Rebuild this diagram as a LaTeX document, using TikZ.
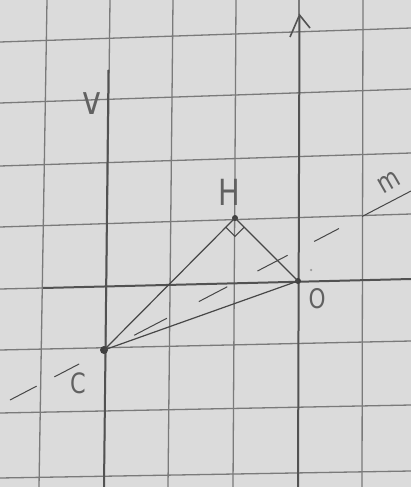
\documentclass[tikz,border=0pt]{standalone}
\usepackage{fontspec}
\setmainfont{DejaVu Sans}
\usetikzlibrary{calc}
\begin{document}
\begin{tikzpicture}[x=1pt,y=-1pt,
  gridline/.style={draw=black!52,line width=1.3pt},
  axis/.style={draw=black!68,line width=2pt},
  figline/.style={draw=black!72,line width=1.2pt},
  ptdot/.style={circle,fill=black!75,inner sep=0pt,minimum size=#1},
  lbl/.style={text=black!62,font=\fontsize{#1}{#1}\selectfont\addfontfeature{FakeStretch=0.8}}]
\useasboundingbox[fill=black!14] (0,0) rectangle (411,487);
% grid
\foreach \a/\b in {47/39,110/104,173/168,236/233,363/362}
  \draw[gridline] (\a,0) -- (\b,487);
\foreach \a/\b in {42/28,103/89,166/153,227/214,350/341,413/405,478/471}
  \draw[gridline] (0,\a) -- (411,\b);
\draw[gridline] (0,289) -- (43,288);
\draw[gridline] (299,0) -- (299,15);
% axes
\coordinate (ytop) at (299.5,15);
\coordinate (ybot) at (298,487);
\draw[axis] (ybot) -- (ytop);
\draw[axis,line width=1.6pt,line join=miter] (290,37) -- (ytop) -- (310,28);
\coordinate (xl) at (43,288);
\coordinate (xr) at (411,279);
\draw[axis] (xl) -- (xr);
\coordinate (vt) at (108.5,70);
\coordinate (vb) at (104,487);
\draw[axis] (vt) -- (vb);
% points
\node[ptdot=6pt] (H) at (235,218) {};
\node[ptdot=6pt] (O) at (298,281) {};
\node[ptdot=8pt] (C) at (104,350) {};
\node[ptdot=2.5pt,fill=black!40] (s) at (311,270) {};
% triangle
\draw[figline] (C.center) -- (H.center) -- (O.center) -- (C.center);
% right angle mark
\coordinate (ra1) at ($(H.center)!13pt!(C.center)$);
\coordinate (ra2) at ($(H.center)!13pt!(O.center)$);
\draw[figline,line width=1.1pt] (ra1) -- ($(ra1)+(ra2)-(H.center)$) -- (ra2);
% line m
\coordinate (m1) at (10,400);
\coordinate (m2) at (411,191);
\draw[figline,line width=1pt,dash pattern=on 30pt off 20pt on 28pt off 62pt on 37pt off 36pt on 32pt off 34pt on 34pt off 30pt on 28pt off 26pt on 60pt off 10pt] (m1) -- (m2);
% labels
\node[lbl=36] (lH) at (229,192) {H};
\node[lbl=27] (lO) at (317,299) {O};
\node[lbl=28] (lC) at (78,383) {C};
\node[lbl=40] (lv) at (92,104) {v};
\node[lbl=28,rotate=30] (lm) at (389,182) {m};
\end{tikzpicture}
\end{document}
